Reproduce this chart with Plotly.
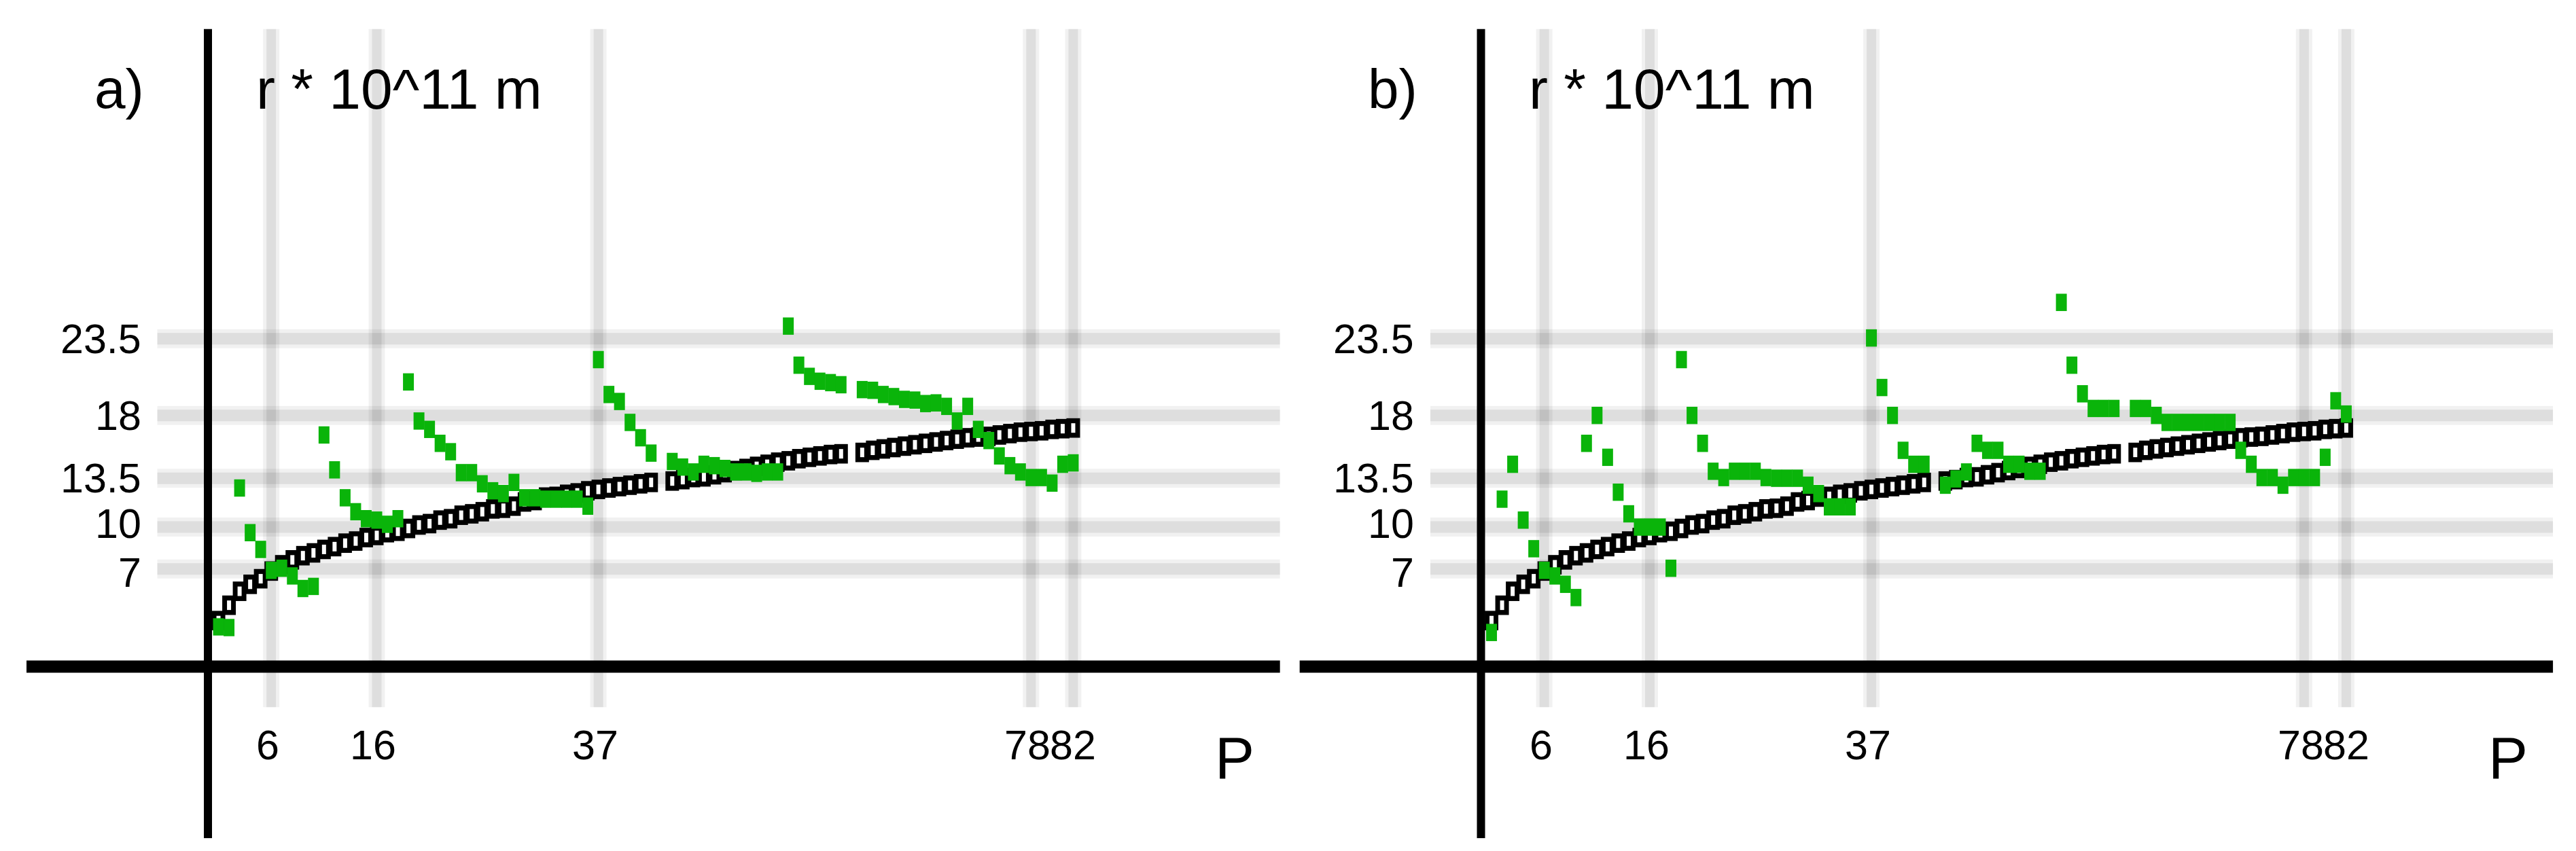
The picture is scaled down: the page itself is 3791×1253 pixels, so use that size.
import plotly.graph_objects as go

# ---------------- data ----------------
P = list(range(1, 83))

# black hollow squares (same curve in both panels); None = no point
r_model = [3.3, 4.4, 5.4, 5.9, 6.3, 6.85, 7.3, 7.65, 7.95, 8.15,
           8.4, 8.6, 8.85, 9.0, 9.25, 9.4, 9.6, 9.7, 9.9, 10.15,
           10.25, 10.5, 10.6, 10.85, 10.95, 11.1, 11.3, 11.35, 11.5, 11.8,
           11.9, 12.15, 12.2, 12.35, 12.45, 12.6, 12.7, 12.8, 12.9, 13.0,
           13.1, 13.2, None, 13.3, 13.4, 13.55, 13.6, 13.75, 13.9, 14.05,
           14.2, 14.35, 14.5, 14.65, 14.75, 14.9, 15.0, 15.1, 15.2, 15.25,
           None, 15.35, 15.5, 15.6, 15.7, 15.8, 15.9, 16.0, 16.1, 16.2,
           16.3, 16.4, 16.45, 16.5, 16.6, 16.7, 16.8, 16.85, 16.9, 17.0,
           17.05, 17.1]

# green squares, panel a)
r_a = [2.85, 2.8, 12.8, 9.6, 8.4, 6.9, 7.05, 6.5, 5.6, 5.75,
       16.6, 14.1, 12.1, 11.1, 10.6, 10.5, 10.2, 10.6, 20.4, 17.6,
       17.0, 16.0, 15.4, 13.9, 13.9, 13.1, 12.6, 12.4, 13.2, 12.1,
       12.1, 12.0, 12.0, 12.0, 12.0, 11.5, 22.0, 19.5, 19.0, 17.5,
       16.4, 15.3, None, 14.7, 14.3, 13.95, 14.5, 14.4, 14.2, 13.95,
       13.95, 13.85, 13.95, 13.95, 24.4, 21.6, 20.8, 20.45, 20.35, 20.2,
       None, 19.85, 19.8, 19.5, 19.35, 19.15, 19.1, 18.85, 18.9, 18.65,
       17.6, 18.65, 17.0, 16.2, 15.1, 14.4, 13.95, 13.55, 13.55, 13.15,
       14.5, 14.6]

# green squares, panel b)
r_b = [2.45, 12.0, 14.5, 10.5, 8.45, 6.9, 6.5, 5.9, 4.95, 16.0,
       18.0, 15.0, 12.5, 10.95, 10.0, 10.0, 10.0, 7.05, 22.0, 18.0,
       16.0, 14.0, 13.55, 14.0, 14.0, 14.0, 13.55, 13.5, 13.5, 13.5,
       13.0, 12.4, 11.45, 11.45, 11.45, None, 23.55, 20.0, 18.0, 15.5,
       14.5, 14.5, None, 13.0, 13.45, 13.95, 16.0, 15.5, 15.5, 14.5,
       14.5, 14.0, 14.0, None, 26.1, 21.6, 19.55, 18.5, 18.5, 18.5,
       None, 18.5, 18.5, 18.0, 17.5, 17.5, 17.5, 17.5, 17.5, 17.5,
       17.5, 15.5, 14.5, 13.55, 13.55, 13.0, 13.55, 13.55, 13.55, 15.0,
       19.05, 18.1]

y_ticks = [7, 10, 13.5, 18, 23.5]
y_tick_labels = ["7", "10", "13.5", "18", "23.5"]
x_ticks = [6, 16, 37, 78, 82]
x_tick_labels = ["6", "16", "37", "78", "82"]
panel_labels = ["a)", "b)"]
y_title = "r * 10^11 m"
x_title = "P"

# ---------------- layout constants ----------------
W, H = 3791, 1253
XR = [-17.2, 101.6]
YR = [-12.3, 45.7]
FONT = "Liberation Sans, Arial, sans-serif"
GREEN = "#0ab40a"
# small vertical nudges (px) so the two closest labels do not collide
label_nudge = {"7": -5, "10": 5}

fig = go.Figure()

panels = [("x", "y", r_a), ("x2", "y2", r_b)]
for xa, ya, greens in panels:
    # black hollow rectangles: black body + white slit
    fig.add_trace(go.Scatter(
        x=P, y=r_model, mode="markers", xaxis=xa, yaxis=ya, showlegend=False,
        marker=dict(symbol="line-ns", size=20.5, color="black",
                    line=dict(width=20, color="black")),
        hoverinfo="skip"))
    fig.add_trace(go.Scatter(
        x=P, y=r_model, mode="markers", xaxis=xa, yaxis=ya, showlegend=False,
        marker=dict(symbol="line-ns", size=10, color="white",
                    line=dict(width=6, color="white")),
        hoverinfo="skip"))
    # green filled rectangles
    fig.add_trace(go.Scatter(
        x=P, y=greens, mode="markers", xaxis=xa, yaxis=ya, showlegend=False,
        marker=dict(symbol="line-ns", size=18.2, color=GREEN,
                    line=dict(width=16, color=GREEN))))

shapes = []
annotations = []
for i, (xa, ya, _) in enumerate(panels):
    # axis lines crossing at origin
    shapes.append(dict(type="line", xref=xa, yref=ya, x0=0, x1=0, y0=YR[0], y1=YR[1],
                       line=dict(color="black", width=12), layer="below"))
    shapes.append(dict(type="line", xref=xa, yref=ya, x0=XR[0], x1=XR[1], y0=0, y1=0,
                       line=dict(color="black", width=18), layer="below"))
    # horizontal grid bands
    for yv in y_ticks:
        for w, a in ((28, 0.055), (17, 0.08)):
            shapes.append(dict(type="line", xref=xa, yref=ya, x0=-4.8, x1=XR[1], y0=yv, y1=yv,
                               line=dict(color=f"rgba(0,0,0,{a})", width=w), layer="below"))
    # vertical grid bands
    for xv in x_ticks:
        for w, a in ((24, 0.055), (14, 0.08)):
            shapes.append(dict(type="line", xref=xa, yref=ya, x0=xv, x1=xv, y0=-2.9, y1=YR[1],
                               line=dict(color=f"rgba(0,0,0,{a})", width=w), layer="below"))
    # tick labels
    for yv, lab in zip(y_ticks, y_tick_labels):
        annotations.append(dict(xref=xa, yref=ya, x=-6.2, y=yv, text=lab, showarrow=False,
                                xanchor="right", yanchor="middle",
                                yshift=label_nudge.get(lab, 0),
                                font=dict(family=FONT, size=61, color="black")))
    for xv, lab in zip(x_ticks, x_tick_labels):
        annotations.append(dict(xref=xa, yref=ya, x=xv, y=-5.6, text=lab, showarrow=False,
                                xanchor="center", yanchor="middle",
                                xshift=(0 if lab == "82" else -5),
                                font=dict(family=FONT, size=61, color="black")))
    # titles
    annotations.append(dict(xref=xa, yref=ya, x=-8.4, y=41.4, text=panel_labels[i],
                            showarrow=False, xanchor="center", yanchor="middle",
                            font=dict(family=FONT, size=82, color="black")))
    annotations.append(dict(xref=xa, yref=ya, x=18.1, y=41.4, text=y_title,
                            showarrow=False, xanchor="center", yanchor="middle",
                            font=dict(family=FONT, size=84, color="black")))
    annotations.append(dict(xref=xa, yref=ya, x=97.3, y=-6.5, text=x_title,
                            showarrow=False, xanchor="center", yanchor="middle",
                            font=dict(family=FONT, size=87, color="black")))

axis_common = dict(range=XR, showgrid=False, zeroline=False, showticklabels=False,
                   showline=False, ticks="", fixedrange=True)
yaxis_common = dict(range=YR, showgrid=False, zeroline=False, showticklabels=False,
                    showline=False, ticks="", fixedrange=True)

fig.update_layout(
    width=W, height=H,
    margin=dict(l=0, r=0, t=0, b=0),
    paper_bgcolor="white", plot_bgcolor="white",
    xaxis=dict(domain=[0.00815, 0.49481], anchor="y", **axis_common),
    yaxis=dict(domain=[0.0213, 0.9725], anchor="x", **yaxis_common),
    xaxis2=dict(domain=[0.50235, 0.98900], anchor="y2", **axis_common),
    yaxis2=dict(domain=[0.0213, 0.9725], anchor="x2", **yaxis_common),
    shapes=shapes,
    annotations=annotations,
    showlegend=False,
)

fig.write_html("out.html")
